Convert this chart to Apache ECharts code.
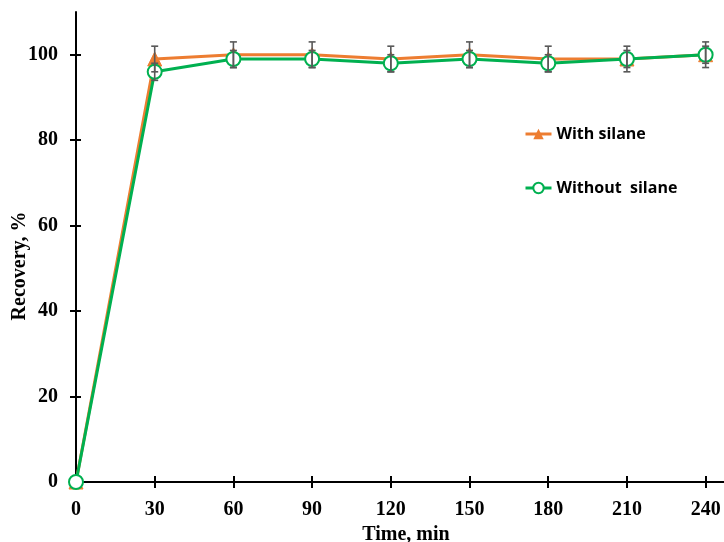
<!DOCTYPE html>
<html>
<head>
<meta charset="utf-8">
<script src="https://cdn.jsdelivr.net/npm/echarts@6/dist/echarts.min.js"></script>
<style>html,body{margin:0;padding:0;background:#fff;}#c{width:724px;height:542px;}</style>
</head>
<body>
<div id="c"></div>
<script>
const times = [0, 30, 60, 90, 120, 150, 180, 210, 240];
const withSilane = [0, 99, 100, 100, 99, 100, 99, 99, 100];
const withoutSilane = [0, 96, 99, 99, 98, 99, 98, 99, 100];
const errWith = [0, 3, 3, 3, 3, 3, 3, 3, 3];
const errWithout = [0, 2, 2, 2, 2, 2, 2, 2, 2];
const xTicks = [0, 30, 60, 90, 120, 150, 180, 210, 240];
const yTicks = [0, 20, 40, 60, 80, 100];

const chart = echarts.init(document.getElementById('c'));
const serif = '"Liberation Serif", "Times New Roman", serif';

function errSeries(vals, errs, z) {
  return {
    type: 'custom',
    z: z,
    silent: true,
    data: times.map((t, i) => [t, vals[i], errs[i]]),
    renderItem: function (params, api) {
      const x = api.value(0), y = api.value(1), e = api.value(2);
      if (!e) return null;
      const top = api.coord([x, y + e]);
      const bot = api.coord([x, y - e]);
      const hw = 3.5;
      const st = { stroke: '#595959', lineWidth: 1.6 };
      return {
        type: 'group',
        children: [
          { type: 'line', shape: { x1: top[0], y1: top[1], x2: bot[0], y2: bot[1] }, style: st },
          { type: 'line', shape: { x1: top[0] - hw, y1: top[1], x2: top[0] + hw, y2: top[1] }, style: st },
          { type: 'line', shape: { x1: bot[0] - hw, y1: bot[1], x2: bot[0] + hw, y2: bot[1] }, style: st }
        ]
      };
    }
  };
}

const axisLine = { show: true, lineStyle: { color: '#000', width: 2 } };

chart.setOption({
  animation: false,
  grid: { left: 76, right: 0, top: 12, bottom: 60, containLabel: false, outerBoundsMode: 'none' },
  legend: {
    orient: 'vertical',
    left: 519,
    top: 121,
    itemGap: 38,
    itemWidth: 26,
    itemHeight: 13,
    lineStyle: { width: 3 },
    data: ['With silane', 'Without  silane'],
    textStyle: { fontFamily: '"Open Sans", sans-serif', fontWeight: 'bold', fontSize: 16, color: '#000' }
  },
  xAxis: [{
    type: 'value', min: 0, max: 247, interval: 30,
    name: 'Time, min', nameLocation: 'middle', nameGap: 37,
    nameTextStyle: { fontFamily: serif, fontWeight: 'bold', fontSize: 20, color: '#000', padding: [0, 0, 0, 12] },
    axisLine: axisLine,
    axisTick: { show: true, length: 6, customValues: xTicks, lineStyle: { color: '#000', width: 2 } },
    axisLabel: { customValues: xTicks, margin: 18, fontFamily: serif, fontWeight: 'bold', fontSize: 20, color: '#000' },
    splitLine: { show: false }
  }, {
    type: 'value', min: 0, max: 247, interval: 30, position: 'bottom',
    axisLine: { show: false },
    axisTick: { show: true, inside: true, length: 6, customValues: xTicks, lineStyle: { color: '#000', width: 2 } },
    axisLabel: { show: false },
    splitLine: { show: false }
  }],
  yAxis: [{
    type: 'value', min: 0, max: 110, interval: 20,
    axisLine: axisLine,
    axisTick: { show: true, length: 6, customValues: yTicks, lineStyle: { color: '#000', width: 2 } },
    axisLabel: { customValues: yTicks, margin: 18, fontFamily: serif, fontWeight: 'bold', fontSize: 20, color: '#000' },
    splitLine: { show: false }
  }, {
    type: 'value', min: 0, max: 110, interval: 20, position: 'left',
    axisLine: { show: false },
    axisTick: { show: true, inside: true, length: 5, customValues: yTicks, lineStyle: { color: '#000', width: 2 } },
    axisLabel: { show: false },
    splitLine: { show: false }
  }],
  graphic: [{
    type: 'text',
    x: 20, y: 266,
    rotation: Math.PI / 2,
    style: {
      text: 'Recovery, %',
      font: 'bold 20px ' + serif,
      fill: '#000',
      align: 'center',
      verticalAlign: 'middle'
    }
  }],
  series: [
    {
      name: 'With silane', type: 'line', z: 3,
      data: times.map((t, i) => [t, withSilane[i]]),
      symbol: 'triangle', symbolSize: 14,
      lineStyle: { color: '#ED7D31', width: 3 },
      itemStyle: { color: '#ED7D31', borderColor: '#ED7D31' }
    },
    {
      name: 'Without  silane', type: 'line', z: 4,
      data: times.map((t, i) => [t, withoutSilane[i]]),
      symbol: 'emptyCircle', symbolSize: 14,
      lineStyle: { color: '#00B050', width: 3 },
      itemStyle: { color: '#00B050', borderColor: '#00B050', borderWidth: 3 }
    },
    errSeries(withSilane, errWith, 5),
    errSeries(withoutSilane, errWithout, 5)
  ]
});
</script>
</body>
</html>
